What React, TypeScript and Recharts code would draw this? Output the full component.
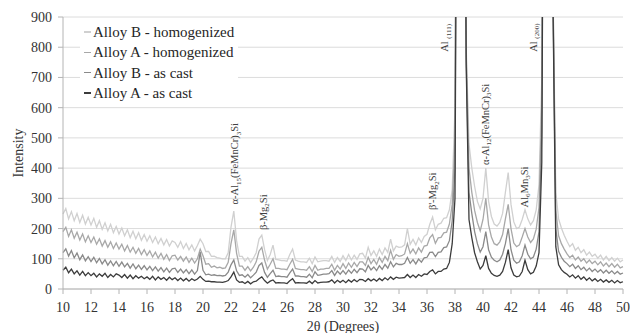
import React from 'react';
import { ComposedChart, Line, Scatter, XAxis, YAxis, CartesianGrid, Legend } from 'recharts';

const twoTheta = [
  10, 10.2, 10.4, 10.6, 10.8, 11, 11.2, 11.4, 11.6, 11.8,
  12, 12.2, 12.4, 12.6, 12.8, 13, 13.2, 13.4, 13.6, 13.8,
  14, 14.2, 14.4, 14.6, 14.8, 15, 15.2, 15.4, 15.6, 15.8,
  16, 16.2, 16.4, 16.6, 16.8, 17, 17.2, 17.4, 17.6, 17.8,
  18, 18.2, 18.4, 18.6, 18.8, 19, 19.2, 19.4, 19.6, 19.8,
  20, 20.2, 20.4, 20.6, 20.8, 21, 21.2, 21.4, 21.6, 21.8,
  22, 22.2, 22.4, 22.6, 22.8, 23, 23.2, 23.4, 23.6, 23.8,
  24, 24.2, 24.4, 24.6, 24.8, 25, 25.2, 25.4, 25.6, 25.8,
  26, 26.2, 26.4, 26.6, 26.8, 27, 27.2, 27.4, 27.6, 27.8,
  28, 28.2, 28.4, 28.6, 28.8, 29, 29.2, 29.4, 29.6, 29.8,
  30, 30.2, 30.4, 30.6, 30.8, 31, 31.2, 31.4, 31.6, 31.8,
  32, 32.2, 32.4, 32.6, 32.8, 33, 33.2, 33.4, 33.6, 33.8,
  34, 34.2, 34.4, 34.6, 34.8, 35, 35.2, 35.4, 35.6, 35.8,
  36, 36.2, 36.4, 36.6, 36.8, 37, 37.2, 37.4, 37.6, 37.8,
  38, 38.2, 38.4, 38.6, 38.8, 39, 39.2, 39.4, 39.6, 39.8,
  40, 40.2, 40.4, 40.6, 40.8, 41, 41.2, 41.4, 41.6, 41.8,
  42, 42.2, 42.4, 42.6, 42.8, 43, 43.2, 43.4, 43.6, 43.8,
  44, 44.2, 44.4, 44.6, 44.8, 45, 45.2, 45.4, 45.6, 45.8,
  46, 46.2, 46.4, 46.6, 46.8, 47, 47.2, 47.4, 47.6, 47.8,
  48, 48.2, 48.4, 48.6, 48.8, 49, 49.2, 49.4, 49.6, 49.8,
  50,
];

const alloyBHomogenized = [
  248, 266, 232, 256, 226, 250, 220, 244, 215, 237,
  212, 234, 204, 226, 197, 219, 192, 214, 186, 207,
  182, 202, 176, 196, 170, 191, 166, 186, 161, 180,
  158, 176, 154, 172, 150, 167, 146, 164, 142, 159,
  154, 138, 157, 134, 151, 130, 146, 126, 144, 165,
  150, 124, 124, 108, 109, 104, 102, 100, 100, 120,
  205, 258, 160, 108, 108, 92, 104, 88, 102, 120,
  165, 178, 130, 94, 114, 145, 98, 96, 94, 94,
  92, 114, 132, 96, 92, 90, 90, 88, 102, 84,
  106, 90, 92, 94, 94, 92, 108, 88, 104, 91,
  110, 94, 114, 96, 112, 98, 116, 118, 102, 138,
  111, 126, 108, 132, 114, 136, 121, 165, 126, 142,
  138, 139, 146, 200, 148, 164, 146, 169, 154, 174,
  181, 214, 238, 196, 214, 218, 234, 236, 262, 330,
  600, 3000, 6000, 3000, 800, 480, 400, 340, 290, 265,
  300, 400, 290, 240, 215, 208, 220, 250, 320, 385,
  280, 222, 200, 205, 230, 262, 232, 212, 226, 262,
  345, 700, 3000, 6000, 3000, 1000, 320, 232, 202, 178,
  158, 140, 150, 128, 138, 120, 130, 112, 122, 108,
  115, 102, 112, 96, 108, 94, 104, 92, 102, 90,
  96,
];

const alloyAHomogenized = [
  190, 204, 174, 196, 168, 188, 162, 182, 156, 176,
  154, 172, 148, 166, 142, 160, 138, 156, 134, 152,
  132, 148, 126, 144, 122, 138, 118, 134, 114, 130,
  111, 126, 106, 122, 102, 118, 98, 114, 94, 110,
  112, 96, 108, 92, 106, 88, 102, 86, 100, 132,
  110, 82, 84, 72, 76, 70, 72, 68, 70, 88,
  150, 196, 118, 76, 76, 62, 74, 60, 72, 90,
  125, 138, 95, 66, 82, 100, 68, 68, 66, 66,
  64, 82, 98, 68, 66, 64, 64, 62, 74, 58,
  78, 62, 66, 66, 68, 68, 82, 62, 78, 66,
  84, 68, 86, 72, 88, 74, 90, 90, 78, 105,
  84, 98, 82, 104, 88, 108, 94, 128, 98, 114,
  108, 110, 116, 150, 118, 132, 116, 136, 122, 142,
  144, 169, 180, 151, 169, 171, 186, 188, 215, 280,
  500, 2800, 5500, 2800, 780, 400, 320, 260, 220, 192,
  230, 300, 212, 172, 150, 145, 156, 180, 232, 280,
  200, 152, 140, 146, 172, 200, 172, 154, 166, 198,
  270, 620, 2800, 5500, 2800, 980, 262, 176, 150, 132,
  116, 104, 112, 96, 106, 92, 100, 86, 96, 84,
  92, 80, 90, 76, 86, 74, 84, 72, 82, 70,
  74,
];

const alloyBAsCast = [
  120, 133, 109, 127, 103, 119, 97, 113, 93, 107,
  91, 105, 87, 101, 83, 97, 79, 93, 77, 91,
  75, 89, 73, 85, 69, 83, 67, 79, 65, 77,
  63, 75, 61, 73, 59, 71, 57, 69, 55, 67,
  69, 55, 66, 53, 64, 51, 63, 49, 61, 122,
  62, 47, 49, 45, 47, 44, 45, 43, 45, 56,
  80, 96, 60, 45, 47, 39, 48, 37, 46, 56,
  78, 86, 55, 39, 51, 62, 41, 43, 41, 41,
  39, 53, 66, 43, 43, 41, 41, 39, 49, 37,
  57, 45, 47, 49, 49, 51, 61, 45, 59, 49,
  61, 49, 63, 52, 65, 54, 67, 66, 57, 78,
  63, 73, 61, 77, 65, 81, 69, 90, 73, 85,
  81, 81, 85, 104, 85, 97, 83, 99, 89, 103,
  105, 121, 122, 107, 121, 123, 137, 139, 160, 225,
  400, 2600, 5000, 2600, 760, 320, 250, 190, 150, 122,
  140, 190, 130, 105, 95, 90, 96, 115, 150, 200,
  130, 95, 85, 90, 110, 145, 115, 100, 106, 132,
  190, 520, 2600, 5000, 2600, 960, 200, 125, 105, 92,
  84, 74, 82, 68, 77, 64, 72, 60, 69, 58,
  66, 56, 64, 53, 62, 52, 60, 50, 58, 49,
  53,
];

const alloyAAsCast = [
  62, 72, 54, 66, 50, 60, 46, 58, 44, 54,
  44, 52, 40, 50, 42, 52, 38, 48, 40, 50,
  46, 38, 48, 36, 46, 34, 44, 36, 42, 34,
  40, 32, 42, 30, 40, 32, 38, 29, 39, 31,
  37, 28, 36, 27, 35, 26, 34, 28, 33, 42,
  32, 25, 26, 24, 24, 23, 23, 22, 24, 28,
  40, 56, 30, 22, 24, 18, 25, 17, 24, 26,
  34, 40, 28, 19, 26, 30, 20, 21, 20, 20,
  18, 27, 34, 20, 21, 20, 20, 19, 26, 18,
  28, 20, 22, 23, 23, 24, 30, 20, 29, 22,
  29, 21, 30, 23, 31, 24, 32, 31, 25, 34,
  27, 33, 26, 35, 28, 37, 30, 40, 32, 39,
  36, 37, 38, 48, 38, 46, 38, 48, 42, 50,
  48, 58, 63, 50, 58, 58, 66, 68, 88, 150,
  300, 2400, 4600, 2400, 740, 230, 170, 120, 90, 66,
  78, 110, 68, 52, 45, 42, 46, 58, 88, 130,
  70, 46, 40, 43, 58, 95, 64, 50, 55, 76,
  120, 420, 2400, 4600, 2400, 940, 140, 80, 64, 55,
  49, 40, 47, 36, 44, 32, 40, 29, 37, 27,
  34, 25, 32, 23, 30, 22, 29, 20, 28, 21,
  24,
];

const seriesKeys = ['bHom', 'aHom', 'bCast', 'aCast'];
const seriesNames = ['Alloy B - homogenized', 'Alloy A - homogenized', 'Alloy B - as cast', 'Alloy A - as cast'];
const seriesColors = ['#d0d0d0', '#a8a8a8', '#8a8a8a', '#3c3c3c'];

const xTicks = [10, 12, 14, 16, 18, 20, 22, 24, 26, 28, 30, 32, 34, 36, 38, 40, 42, 44, 46, 48, 50];
const yTicks = [0, 100, 200, 300, 400, 500, 600, 700, 800, 900];

const peakX = [22.25, 24.3, 36.4, 37.25, 40.14, 42.95, 43.6];
const peakY = [280, 195, 261, 785, 410, 270, 785];
const peakText: [string, number][][] = [
  [['α-Al', 0], ['15', 1], ['(FeMnCr)', 0], ['3', 1], ['Si', 0]],
  [['β-Mg', 0], ['2', 1], ['Si', 0]],
  [["β'-Mg", 0], ['2', 1], ['Si', 0]],
  [['Al ', 0], ['(111)', 1]],
  [['α-Al', 0], ['12', 1], ['(FeMnCr)', 0], ['3', 1], ['Si', 0]],
  [['Al', 0], ['6', 1], ['Mn', 0], ['3', 1], ['Si', 0]],
  [['Al ', 0], ['(200)', 1]],
];

const seriesArrays = [alloyBHomogenized, alloyAHomogenized, alloyBAsCast, alloyAAsCast];
const data = twoTheta.map((x, i) => {
  const row: Record<string, number> = { x };
  seriesKeys.forEach((k, j) => {
    row[k] = seriesArrays[j][i];
  });
  return row;
});

const peakLabels = peakX.map((x, i) => ({ x, y: peakY[i], parts: peakText[i] }));

const FONT = 'Liberation Serif, DejaVu Serif, serif';

const PeakLabel = (props: any) => {
  const { cx, cy, payload } = props;
  if (cx == null || cy == null) return null;
  const parts: [string, number][] = payload.parts;
  const out: React.ReactNode[] = [];
  let prevSub = 0;
  parts.forEach(([t, sub], i) => {
    const dy = sub && !prevSub ? 2.5 : !sub && prevSub ? -2.5 : 0;
    out.push(
      <tspan key={i} fontSize={sub ? 7 : 10.5} dy={dy}>
        {t}
      </tspan>
    );
    prevSub = sub;
  });
  return (
    <g transform={`translate(${cx},${cy}) rotate(-90)`}>
      <text x={0} y={3.6} style={{ fontFamily: FONT }} fontSize={10.5} fill="#404040" textAnchor="start">
        {out}
      </text>
    </g>
  );
};

const LegendBox = () => (
  <div
    style={{
      background: '#ffffff',
      padding: '0 4px',
      fontFamily: FONT,
      fontSize: 15,
      color: '#262626',
      lineHeight: '20.3px',
    }}
  >
    {seriesNames.map((n, i) => (
      <div key={n} style={{ display: 'flex', alignItems: 'center', height: 20.3, whiteSpace: 'nowrap' }}>
        <span style={{ display: 'inline-block', width: 7, height: 1.5, background: seriesColors[i], marginRight: 2 }} />
        <span style={{ fontFamily: FONT }}>{n}</span>
      </div>
    ))}
  </div>
);

export default function App() {
  const tickStyle = { fontSize: 14, fill: '#333333', style: { fontFamily: FONT } };
  return (
    <div style={{ position: 'absolute', left: 0, top: 0, width: 630, height: 333, background: '#ffffff', fontFamily: FONT }}>
      <ComposedChart width={630} height={333} data={data} margin={{ top: 17, right: 7, bottom: 0, left: 0 }} style={{ fontFamily: FONT }}>
        <CartesianGrid vertical={false} stroke="#dcdcdc" />
        <XAxis
          type="number"
          dataKey="x"
          domain={[10, 50]}
          ticks={xTicks}
          interval={0}
          height={44}
          tickSize={5}
          tickMargin={8}
          stroke="#b4b4b4"
          tick={tickStyle}
          label={{
            content: (p: any) => {
              const vb = p.viewBox || { x: 63, y: 289, width: 560 };
              return (
                <text x={vb.x + vb.width / 2} y={vb.y + 42} textAnchor="middle" style={{ fontFamily: FONT }} fontSize={14} fill="#333333">
                  2θ (Degrees)
                </text>
              );
            },
          }}
        />
        <YAxis
          type="number"
          domain={[0, 900]}
          ticks={yTicks}
          interval={0}
          allowDataOverflow
          width={63}
          tickSize={5}
          tickMargin={6}
          stroke="#b4b4b4"
          tick={tickStyle}
          label={{
            content: (p: any) => {
              const vb = p.viewBox || { x: 0, y: 17, height: 272 };
              const cx = vb.x + 18;
              const cy = vb.y + vb.height / 2;
              return (
                <text x={cx} y={cy} transform={`rotate(-90 ${cx} ${cy})`} dy="0.35em" textAnchor="middle" style={{ fontFamily: FONT }} fontSize={14} fill="#333333">
                  Intensity
                </text>
              );
            },
          }}
        />
        <Legend
          layout="vertical"
          align="center"
          verticalAlign="middle"
          wrapperStyle={{ left: 80, top: 22, width: 'auto' }}
          content={() => <LegendBox />}
        />
        {seriesKeys.map((k, i) => (
          <Line
            key={k}
            type="linear"
            dataKey={k}
            name={seriesNames[i]}
            stroke={seriesColors[i]}
            strokeWidth={1.3}
            dot={false}
            activeDot={false}
            isAnimationActive={false}
          />
        ))}
        <Scatter data={peakLabels} dataKey="y" shape={(p: any) => <PeakLabel {...p} />} isAnimationActive={false} legendType="none" />
      </ComposedChart>
    </div>
  );
}
